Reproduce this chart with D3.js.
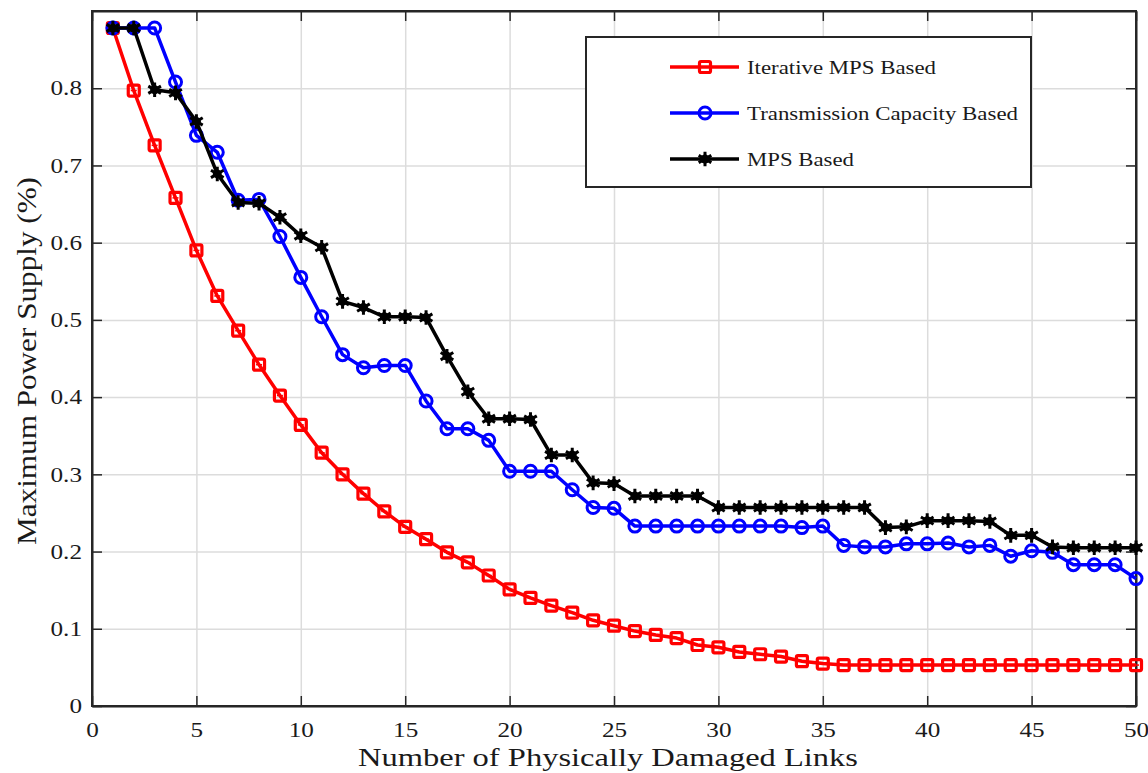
<!DOCTYPE html>
<html>
<head>
<meta charset="utf-8">
<script src="https://cdn.jsdelivr.net/npm/d3@7"></script>
<style>
  body { margin: 0; background: #fff; }
  svg { display: block; }
  text { font-family: "Liberation Serif", "Times New Roman", serif; fill: #1a1a1a; }
</style>
</head>
<body>
<div id="chart"></div>
<script>
'use strict';

// number of damaged links 1..50
var links = d3.range(1, 51);

var iterativeMps = [0.878, 0.797, 0.726, 0.658, 0.590, 0.531, 0.486, 0.442, 0.402, 0.364,
  0.328, 0.300, 0.275, 0.252, 0.232, 0.216, 0.199, 0.186, 0.169, 0.151,
  0.140, 0.130, 0.121, 0.111, 0.104, 0.097, 0.092, 0.088, 0.079, 0.076,
  0.070, 0.067, 0.064, 0.058, 0.055, 0.053, 0.053, 0.053, 0.053, 0.053,
  0.053, 0.053, 0.053, 0.053, 0.053, 0.053, 0.053, 0.053, 0.053, 0.053];

var transCapacity = [0.878, 0.878, 0.878, 0.808, 0.739, 0.717, 0.655, 0.656, 0.608, 0.555,
  0.504, 0.455, 0.438, 0.441, 0.441, 0.395, 0.359, 0.359, 0.344, 0.304,
  0.304, 0.304, 0.280, 0.257, 0.256, 0.233, 0.233, 0.233, 0.233, 0.233,
  0.233, 0.233, 0.233, 0.231, 0.233, 0.208, 0.206, 0.206, 0.210, 0.210,
  0.211, 0.206, 0.208, 0.194, 0.201, 0.199, 0.183, 0.183, 0.183, 0.165];

var mpsBased = [0.878, 0.878, 0.798, 0.794, 0.757, 0.689, 0.652, 0.651, 0.633, 0.609,
  0.594, 0.524, 0.516, 0.504, 0.504, 0.503, 0.453, 0.407, 0.372, 0.372,
  0.371, 0.325, 0.325, 0.289, 0.288, 0.272, 0.272, 0.272, 0.272, 0.257,
  0.257, 0.257, 0.257, 0.257, 0.257, 0.257, 0.257, 0.231, 0.232, 0.240,
  0.240, 0.240, 0.239, 0.221, 0.221, 0.206, 0.205, 0.205, 0.205, 0.205];

var seriesNames = ['Iterative MPS Based', 'Transmission Capacity Based', 'MPS Based'];
var seriesColors = ['#ff0000', '#0000ff', '#000000'];
var seriesMarkers = ['square', 'circle', 'star'];
var seriesValues = [iterativeMps, transCapacity, mpsBased];

var xTicks = d3.range(0, 51, 5);
var yTicks = [0, 0.1, 0.2, 0.3, 0.4, 0.5, 0.6, 0.7, 0.8];

var W = 1148, H = 773;
var margin = {top: 11, right: 12, bottom: 67, left: 92};
var w = W - margin.left - margin.right;
var h = H - margin.top - margin.bottom;
var serif = '"Liberation Serif", "Times New Roman", serif';

var svg = d3.select('#chart').append('svg')
  .attr('width', W)
  .attr('height', H);

var g = svg.append('g').attr('transform', 'translate(' + margin.left + ',' + margin.top + ')');

var x = d3.scaleLinear().domain([0, 50]).range([0, w]);
var y = d3.scaleLinear().domain([0, 0.9]).range([h, 0]);

// grid
g.append('g')
  .attr('class', 'grid')
  .attr('transform', 'translate(0,' + h + ')')
  .call(d3.axisBottom(x).tickValues(xTicks).tickSize(-h).tickFormat(''))
  .call(function (s) { s.select('.domain').remove(); });
g.append('g')
  .attr('class', 'grid')
  .call(d3.axisLeft(y).tickValues(yTicks).tickSize(-w).tickFormat(''))
  .call(function (s) { s.select('.domain').remove(); });
g.selectAll('.grid line').attr('stroke', '#dcdcdc').attr('stroke-width', 1.5);

// axes with inward ticks
var xAxis = g.append('g')
  .attr('class', 'axis')
  .attr('transform', 'translate(0,' + h + ')')
  .call(d3.axisBottom(x).tickValues(xTicks).tickSizeInner(-10).tickSizeOuter(0).tickPadding(16));
var yAxis = g.append('g')
  .attr('class', 'axis')
  .call(d3.axisLeft(y).tickValues(yTicks).tickSizeInner(-10).tickSizeOuter(0).tickPadding(10)
    .tickFormat(function (d) { return d === 0 ? '0' : d3.format('.1f')(d); }));
g.append('g')
  .attr('class', 'axis')
  .call(d3.axisTop(x).tickValues(xTicks).tickSizeInner(-10).tickSizeOuter(0).tickFormat(''));
g.append('g')
  .attr('class', 'axis')
  .attr('transform', 'translate(' + w + ',0)')
  .call(d3.axisRight(y).tickValues(yTicks).tickSizeInner(-10).tickSizeOuter(0).tickFormat(''));

g.selectAll('.axis').attr('font-family', null);
g.selectAll('.axis .domain').attr('stroke', '#262626').attr('stroke-width', 2);
g.selectAll('.axis .tick line').attr('stroke', '#262626').attr('stroke-width', 1.5);

xAxis.selectAll('text')
  .style('font-family', serif)
  .style('font-size', '21px')
  .attr('fill', '#1a1a1a')
  .attr('transform', 'scale(1.2,1)');
yAxis.selectAll('text')
  .style('font-family', serif)
  .style('font-size', '21px')
  .attr('fill', '#1a1a1a')
  .attr('x', -10 / 1.2)
  .attr('transform', 'scale(1.2,1)');

// frame on top
g.append('rect')
  .attr('width', w).attr('height', h)
  .attr('fill', 'none')
  .attr('stroke', '#262626')
  .attr('stroke-width', 2);

// lines
var line = d3.line()
  .x(function (d, i) { return x(links[i]); })
  .y(function (d) { return y(d); });

function drawMarker(sel, kind, color) {
  if (kind === 'square') {
    sel.append('rect')
      .attr('x', -5.5).attr('y', -5.5).attr('width', 11).attr('height', 11)
      .attr('rx', 1.5)
      .attr('fill', 'none').attr('stroke', color).attr('stroke-width', 3.2);
    sel.append('line').attr('x1', -3).attr('x2', 3)
      .attr('stroke', color).attr('stroke-width', 1.5);
  } else if (kind === 'circle') {
    sel.append('circle')
      .attr('r', 6)
      .attr('fill', 'none').attr('stroke', color).attr('stroke-width', 3);
  } else {
    sel.append('circle').attr('r', 4.5).attr('fill', color);
    sel.append('path')
      .attr('d', d3.symbol().type(d3.symbolAsterisk).size(150)())
      .attr('fill', 'none').attr('stroke', color).attr('stroke-width', 3);
  }
}

seriesValues.forEach(function (vals, k) {
  g.append('path')
    .datum(vals)
    .attr('fill', 'none')
    .attr('stroke', seriesColors[k])
    .attr('stroke-width', 3.5)
    .attr('stroke-linejoin', 'round')
    .attr('d', line);

  g.append('g').selectAll('g')
    .data(vals)
    .enter()
    .append('g')
    .attr('transform', function (d, i) { return 'translate(' + x(links[i]) + ',' + y(d) + ')'; })
    .each(function () { drawMarker(d3.select(this), seriesMarkers[k], seriesColors[k]); });
});

// legend
var legend = svg.append('g').attr('transform', 'translate(586,37)');
legend.append('rect')
  .attr('width', 445).attr('height', 150)
  .attr('fill', '#fff')
  .attr('stroke', '#262626')
  .attr('stroke-width', 2);

var legendTextLen = [189, 271, 107];
seriesNames.forEach(function (name, k) {
  var row = legend.append('g').attr('transform', 'translate(0,' + (30 + k * 46) + ')');
  row.append('line')
    .attr('x1', 84).attr('x2', 153)
    .attr('stroke', seriesColors[k]).attr('stroke-width', 3.5);
  var m = row.append('g').attr('transform', 'translate(119,0)');
  drawMarker(m, seriesMarkers[k], seriesColors[k]);
  row.append('text')
    .attr('x', 161).attr('y', 7)
    .attr('font-size', '19px')
    .attr('textLength', legendTextLen[k])
    .attr('lengthAdjust', 'spacingAndGlyphs')
    .text(name);
});

// axis titles
svg.append('text')
  .attr('x', 608).attr('y', 766)
  .attr('text-anchor', 'middle')
  .attr('font-size', '26px')
  .attr('textLength', 500)
  .attr('lengthAdjust', 'spacingAndGlyphs')
  .text('Number of Physically Damaged Links');

svg.append('text')
  .attr('transform', 'translate(36,361) rotate(-90)')
  .attr('text-anchor', 'middle')
  .attr('font-size', '28px')
  .attr('textLength', 368)
  .attr('lengthAdjust', 'spacingAndGlyphs')
  .text('Maximum Power Supply (%)');
</script>
</body>
</html>
